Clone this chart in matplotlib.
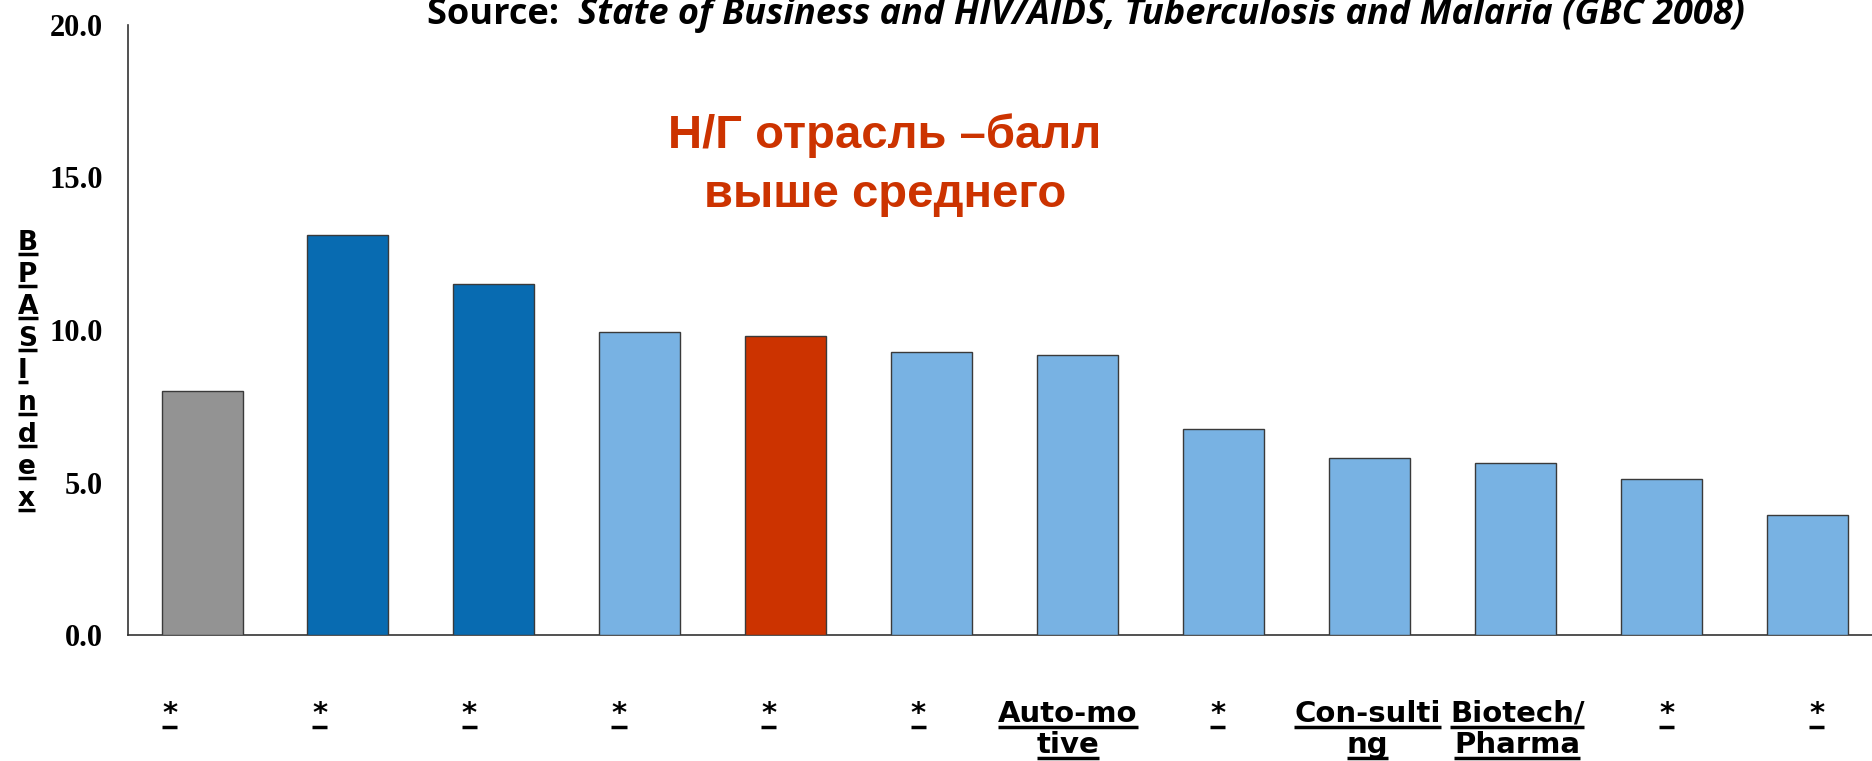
import numpy as np
from matplotlib import pyplot as plt
from matplotlib.lines import Line2D
import matplotlib as mpl

# data
categories = ['*', '*', '*', '*', '*', '*', 'Auto-mo\ntive', '*',
              'Con-sulti\nng', 'Biotech/\nPharma', '*', '*']
bpas_index = [8.0, 13.1, 11.5, 9.93, 9.8, 9.27, 9.19, 6.77, 5.79, 5.63, 5.12, 3.95]
bar_kind = ['avg', 'top', 'top', 'other', 'ng', 'other', 'other', 'other',
            'other', 'other', 'other', 'other']
yticks = [0.0, 5.0, 10.0, 15.0, 20.0]
ylabel_letters = ['B', 'P', 'A', 'S', 'I', 'n', 'd', 'e', 'x']
title_plain = 'Source:  '
title_italic = 'State of Business and HIV/AIDS, Tuberculosis and Malaria (GBC 2008)'
note_lines = ['Н/Г отрасль –балл', 'выше среднего']

kind_colors = {'avg': '#939393', 'top': '#086BB1', 'other': '#78B2E3', 'ng': '#CC3300'}

W, H = 1872, 761


def set_mpl():
    mpl.rcParams.update({
        'font.family': ['DejaVu Sans'],
        'axes.linewidth': 1.2,
    })


def underline(fig, x0, x1, y, lw=2.5):
    # horizontal line in figure pixels
    fig.add_artist(Line2D([x0 / W, x1 / W], [y / H, y / H], transform=fig.transFigure,
                          color='black', lw=lw, solid_capstyle='butt'))


def plot_chart():
    set_mpl()
    fig = plt.figure(figsize=(W / 100, H / 100), dpi=100)
    ax = fig.add_axes([128 / W, 1 - 635 / H, 1 - 128 / W, (635 - 25) / H])

    x = np.arange(len(bpas_index))
    colors = [kind_colors[k] for k in bar_kind]
    ax.bar(x, bpas_index, width=0.555, color=colors, edgecolor='#3a3a3a', linewidth=1.0, zorder=3)

    ax.set_xlim(-0.507, 11.44)
    ax.set_ylim(0, 20)
    ax.set_yticks(yticks)
    ax.set_yticklabels(['%.1f' % v for v in yticks], family='Liberation Serif',
                       fontweight='bold', fontsize=22)
    ax.tick_params(axis='y', length=0, pad=18)
    ax.set_xticks([])
    for s in ['top', 'right']:
        ax.spines[s].set_visible(False)
    ax.spines['left'].set_color('#333333')
    ax.spines['bottom'].set_color('#333333')

    xlab_texts = []
    # category labels, one text per line so each gets its own underline
    lab_x = np.linspace(-0.22, 11.06, len(categories))
    trans = mpl.transforms.blended_transform_factory(ax.transData, fig.transFigure)
    for xi, lab in zip(lab_x, categories):
        for j, line in enumerate(lab.split('\n')):
            t = ax.text(xi, 1 - (722 + 31 * j) / H, line, transform=trans, ha='center',
                        va='baseline', fontsize=21, fontweight='bold', clip_on=False)
            xlab_texts.append(t)

    # vertical y label, letters stacked
    ylab_texts = []
    for i, ch in enumerate(ylabel_letters):
        base = 250 + 32.0 * i
        t = fig.text(18 / W, 1 - base / H, ch, ha='left', va='baseline',
                     fontsize=19, fontweight='bold')
        ylab_texts.append((t, base))

    # title: plain part then italic part
    t1 = fig.text(427 / W, 1 - 24 / H, title_plain, ha='left', va='baseline',
                  family='Open Sans', fontweight='bold', fontsize=26)
    fig.canvas.draw()
    r = fig.canvas.get_renderer()
    bb = t1.get_window_extent(r)
    fig.text(bb.x1 / W, 1 - 24 / H, title_italic, ha='left', va='baseline',
             family='Open Sans', fontweight='bold', style='italic', fontsize=26)

    # red note
    for j, line in enumerate(note_lines):
        fig.text(885 / W, 1 - (148 + 59 * j) / H, line, ha='center', va='baseline',
                 family='Liberation Sans', fontweight='bold', fontsize=34, color='#CC3300')

    fig.canvas.draw()
    r = fig.canvas.get_renderer()
    for t in xlab_texts:
        bb = t.get_window_extent(r)
        underline(fig, bb.x0, bb.x1, bb.y0 + 1)
    for t, base in ylab_texts:
        bb = t.get_window_extent(r)
        underline(fig, bb.x0, bb.x1, H - base - 3.5)

    plt.savefig('out.png', dpi=100)


if __name__ == "__main__":
    plot_chart()
